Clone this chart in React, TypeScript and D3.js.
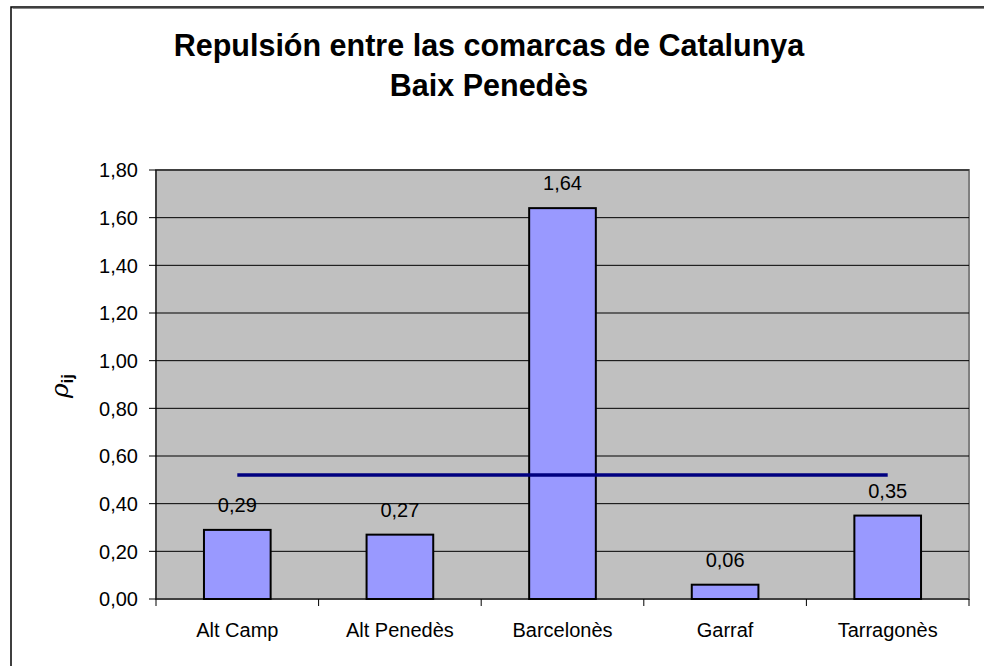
import React from "react";
import * as d3 from "d3";

const categories = ["Alt Camp", "Alt Penedès", "Barcelonès", "Garraf", "Tarragonès"];
const values = [0.29, 0.27, 1.64, 0.06, 0.35];
const meanValue = 0.52;
const yTicks = [0, 0.2, 0.4, 0.6, 0.8, 1.0, 1.2, 1.4, 1.6, 1.8];
const titleLines = ["Repulsión entre las comarcas de Catalunya", "Baix Penedès"];

const W = 984, H = 666;
const plot = { left: 156, top: 170, right: 969, bottom: 599 };
const font = "Arial, 'Liberation Sans', sans-serif";

export default function App() {
  const x = d3.scaleBand<string>().domain(categories).range([plot.left, plot.right]).paddingInner(0).paddingOuter(0);
  const y = d3.scaleLinear().domain([0, 1.8]).range([plot.bottom, plot.top]);
  const fmt = (v: number) => v.toFixed(2).replace(".", ",");
  const bw = x.bandwidth() * 0.41;
  const meanLine = d3.line<[number, number]>().x(d => d[0]).y(d => d[1]);
  const first = categories[0], last = categories[categories.length - 1];
  const meanPts: [number, number][] = [
    [x(first)! + x.bandwidth() / 2, y(meanValue)],
    [x(last)! + x.bandwidth() / 2, y(meanValue)],
  ];
  return (
    <svg width={W} height={H} style={{ position: "absolute", left: 0, top: 0 }} fontFamily={font}>
      <rect x={0} y={0} width={W} height={H} fill="#fff" />
      <rect x={11} y={7} width={W + 10} height={H + 10} fill="none" stroke="#000" strokeWidth={1.5} />
      <line x1={12.5} y1={8.5} x2={W} y2={8.5} stroke="#888" strokeWidth={1} />
      {titleLines.map((t, i) => (
        <text key={i} x={489} y={56 + i * 40} textAnchor="middle" fontSize={30.5} fontWeight="bold" fill="#000">{t}</text>
      ))}
      <rect x={plot.left} y={plot.top} width={plot.right - plot.left} height={plot.bottom - plot.top} fill="#C0C0C0" stroke="#808080" strokeWidth={2} />
      {yTicks.map((t, i) => (
        <g key={i}>
          {t > 0 && <line x1={plot.left} x2={plot.right} y1={y(t)} y2={y(t)} stroke="#000" strokeWidth={1} />}
          <line x1={plot.left - 7} x2={plot.left} y1={y(t)} y2={y(t)} stroke="#000" strokeWidth={1} />
          <text x={plot.left - 18} y={y(t)} dy="0.36em" textAnchor="end" fontSize={20} fill="#000">{fmt(t)}</text>
        </g>
      ))}
      {categories.map((c, i) => (
        <g key={c}>
          <rect x={x(c)! + x.bandwidth() / 2 - bw / 2} y={y(values[i])} width={bw} height={plot.bottom - y(values[i])}
            fill="#9999FF" stroke="#000" strokeWidth={2} />
          <text x={x(c)! + x.bandwidth() / 2} y={y(values[i]) - 18} textAnchor="middle" fontSize={20} fill="#000">{fmt(values[i])}</text>
          <text x={x(c)! + x.bandwidth() / 2} y={plot.bottom + 38} textAnchor="middle" fontSize={20} fill="#000">{c}</text>
        </g>
      ))}
      {d3.range(categories.length + 1).map(i => {
        const xx = plot.left + i * x.bandwidth();
        return <line key={i} x1={xx} x2={xx} y1={plot.bottom} y2={plot.bottom + 7} stroke="#000" strokeWidth={1} />;
      })}
      <line x1={plot.left} x2={plot.left} y1={plot.top} y2={plot.bottom} stroke="#000" strokeWidth={1} />
      <line x1={plot.left} x2={plot.right} y1={plot.bottom} y2={plot.bottom} stroke="#000" strokeWidth={1} />
      <path d={meanLine(meanPts)!} stroke="#000080" strokeWidth={3.5} fill="none" />
      <text transform={`translate(68,${386}) rotate(-90)`} textAnchor="middle" fontSize={25} fill="#000">
        <tspan fontStyle="italic" fontFamily="'DejaVu Serif', serif">ρ</tspan>
        <tspan fontSize={17} fontWeight="bold" dy={5}>ij</tspan>
      </text>
    </svg>
  );
}
